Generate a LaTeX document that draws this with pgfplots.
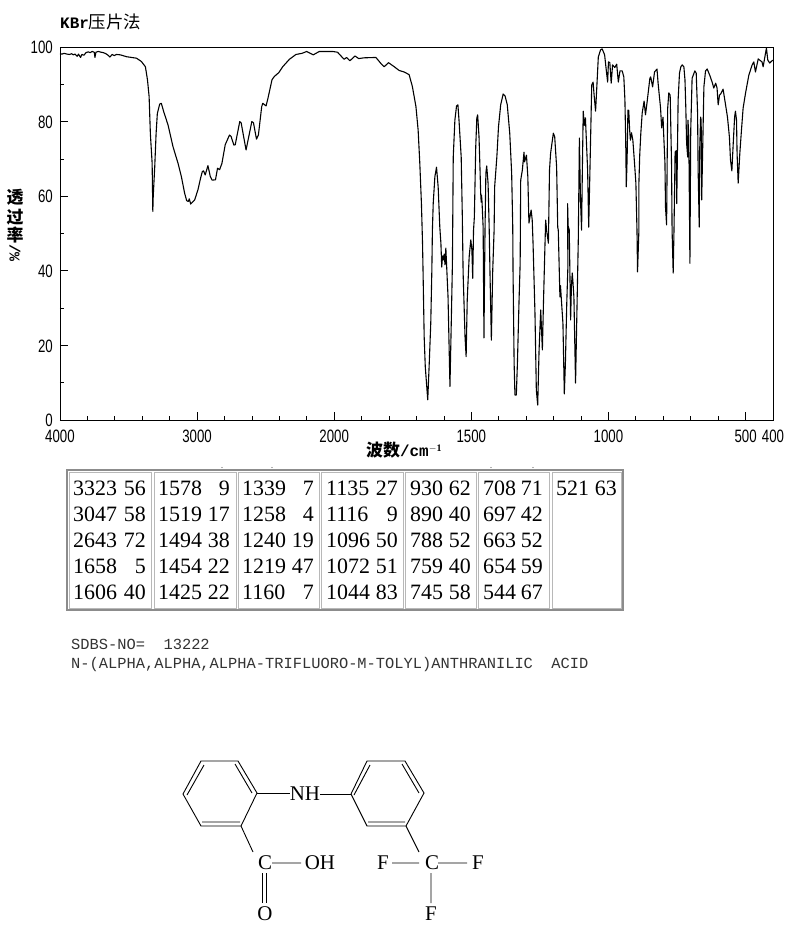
\documentclass[border=0pt]{standalone}
\usepackage{fontspec}
\setmainfont{Liberation Serif}
\setmonofont{Liberation Mono}
\newfontfamily\cjk{Noto Sans CJK SC}
\newfontfamily\tickfont[FakeStretch=0.74]{Liberation Sans}
\usepackage{pgfplots}
\pgfplotsset{compat=1.18}
\newcommand{\fs}[1]{\fontsize{#1}{#1}\selectfont}

% spectrum: wavenumber, transmittance
\begin{document}
\begin{tikzpicture}[x=1bp,y=-1bp]
\path[use as bounding box] (0,0) rectangle (794,935);

\begin{axis}[
  at={(60bp,-420bp)}, anchor=south west,
  scale only axis, width=713bp, height=373bp,
  x coord trafo/.code={\pgfmathparse{#1>=2000?2000+0.5*(#1-2000):#1}},
  x dir=reverse,
  xmin=400, xmax=4000, ymin=0, ymax=100,
  xtick={4000,3000,2000,1500,1000,500,400},
  xticklabels={4000,3000,2000,1500,1000,500,400},
  minor xtick={3800,3600,3400,3200,2800,2600,2400,2200,1900,1800,1700,1600,1400,1300,1200,1100,900,800,700,600},
  ytick={0,20,40,60,80,100},
  yticklabels={0,20,40,60,80,100},
  minor ytick={10,30,50,70,90},
  tick align=inside, xtick pos=bottom, ytick pos=left,
  major tick length=8bp, minor tick length=4bp,
  tick style={black, line width=0.8bp},
  axis line style={line width=0.9bp},
  tick label style={font=\tickfont\fs{18}, inner sep=0pt},
  xticklabel style={yshift=-10bp},
  yticklabel style={xshift=-7bp, yshift=-0.5bp},
]
\addplot[black, line width=1.1bp, line join=round, no marks] table {
4000 98.2
3985 98.1
3970 98.3
3950 98.1
3930 98.0
3915 98.2
3903 97.9
3890 98.1
3875 97.5
3865 98.1
3850 97.2
3840 98.0
3825 97.8
3810 98.5
3794 98.7
3780 98.5
3765 98.8
3750 98.6
3745 97.2
3738 98.6
3720 98.8
3700 98.6
3685 98.5
3665 98.2
3650 97.8
3636 97.3
3620 98.0
3605 97.7
3588 98.0
3560 97.9
3515 97.4
3442 97.0
3406 96.1
3377 94.7
3362 91.2
3350 86.7
3341 76.9
3328 68.8
3323 55.9
3320 60.0
3309 67.9
3299 76.9
3290 82.2
3273 84.7
3261 84.9
3244 82.7
3212 79.1
3176 73.3
3139 68.8
3115 65.3
3091 60.8
3076 58.8
3064 58.6
3057 59.3
3047 57.9
3018 59.0
2994 61.7
2975 64.8
2962 66.6
2953 66.8
2941 65.7
2921 68.2
2904 65.3
2890 64.3
2866 64.4
2851 67.5
2836 67.1
2819 68.8
2795 73.8
2764 76.4
2752 76.0
2732 73.7
2722 73.8
2689 80.0
2679 79.7
2643 72.4
2601 80.0
2589 79.7
2567 75.3
2553 76.4
2529 84.0
2521 84.9
2497 84.2
2483 86.3
2454 91.2
2437 92.1
2405 93.1
2376 94.7
2327 96.7
2279 98.0
2235 98.3
2201 98.8
2153 97.9
2109 98.8
2049 98.8
2010 98.8
1988 98.6
1964 96.7
1955 97.2
1943 96.3
1924 97.6
1911 96.9
1891 97.1
1848 97.2
1830 95.6
1818 94.7
1802 95.8
1781 94.7
1763 93.7
1745 93.3
1727 92.6
1715 89.4
1702 84.0
1694 77.7
1688 68.9
1682 58.0
1678 47.4
1676 39.4
1672 22.3
1668 14.3
1659 5.4
1654 14.3
1648 25.9
1644 40.2
1642 50.9
1639 58.1
1633 65.2
1627 67.8
1621 62.5
1615 51.7
1611 47.4
1608 41.0
1605 44.0
1602 42.9
1599 44.5
1596 41.6
1593 46.1
1585 33.0
1578 9.0
1573 26.8
1569 42.0
1566 70.5
1560 80.4
1554 84.2
1549 84.5
1545 80.4
1537 70.5
1533 55.0
1530 39.4
1523 22.3
1519 17.0
1515 32.2
1508 43.7
1502 48.3
1498 45.6
1495 38.0
1492 50.9
1489 54.4
1484 73.2
1480 81.0
1477 81.8
1472 75.9
1468 66.2
1466 60.9
1464 58.4
1463 60.3
1461 58.4
1457 51.7
1454 22.0
1452 37.5
1450 51.7
1447 66.2
1444 68.1
1439 63.5
1435 51.7
1432 39.4
1427 21.4
1422 40.2
1417 50.9
1415 62.5
1407 70.5
1401 78.6
1393 84.5
1384 87.4
1377 86.9
1369 84.5
1360 76.9
1353 66.2
1349 51.7
1348 40.2
1344 15.2
1341 6.7
1336 6.7
1332 15.2
1326 32.2
1322 42.0
1320 64.3
1314 67.0
1308 71.8
1306 69.2
1299 71.0
1294 65.2
1290 52.8
1282 56.3
1278 53.6
1275 47.4
1268 28.7
1263 8.0
1258 4.0
1253 18.8
1247 29.5
1241 18.8
1237 31.4
1232 45.6
1229 53.6
1225 50.5
1219 47.4
1215 67.0
1211 71.5
1201 76.9
1196 75.9
1189 67.8
1185 51.7
1183 50.9
1177 33.0
1175 36.0
1166 25.9
1161 7.0
1157 15.2
1152 31.4
1148 41.0
1149 58.0
1147 52.0
1143 51.0
1138 26.8
1135 36.0
1132 39.4
1130 37.5
1126 33.0
1120 9.9
1114 33.0
1110 48.3
1106 75.6
1102 59.0
1098 50.9
1095 68.0
1092 82.8
1088 79.0
1086 79.6
1084 81.0
1076 67.0
1072 51.7
1067 68.9
1061 89.8
1056 90.6
1053 87.7
1047 82.8
1043 88.5
1037 97.3
1029 99.2
1023 99.5
1014 97.9
1008 93.8
1003 90.6
1000 96.0
995 95.8
990 90.3
985 95.2
977 94.5
970 95.4
964 90.6
958 93.6
950 93.6
944 92.0
940 85.8
937 74.2
935 62.5
932 70.0
929 83.1
926 83.0
923 78.0
920 75.0
916 77.0
911 75.0
905 68.9
900 63.5
896 50.9
894 39.7
889 50.9
889 63.5
886 71.0
882 76.9
877 82.3
870 85.5
865 81.8
859 85.3
849 91.6
846 92.0
839 89.3
832 93.3
823 94.1
819 90.3
810 83.6
806 78.3
801 81.2
799 77.2
794 68.9
792 57.1
788 52.3
786 68.9
784 83.6
780 87.7
775 87.1
770 68.9
768 50.9
764 39.4
761 51.0
757 71.8
753 72.2
751 58.0
746 85.8
741 93.0
736 94.7
731 95.2
725 94.7
721 91.2
718 83.9
715 74.2
711 70.5
710 80.4
707 75.9
704 50.9
703 42.0
700 77.7
695 91.6
685 93.6
680 93.0
675 82.3
673 67.0
669 51.7
667 73.2
664 81.2
662 80.4
660 59.0
657 70.5
652 89.3
646 93.6
640 94.1
631 92.5
622 90.6
616 89.0
609 90.3
604 89.0
600 84.5
595 87.1
590 87.5
582 88.7
573 84.5
566 81.2
559 75.9
555 69.7
550 66.8
545 74.2
540 81.2
537 82.8
533 80.4
531 71.5
527 63.5
521 71.5
515 77.7
509 83.6
500 87.7
488 92.5
476 95.2
470 96.0
464 93.3
454 96.8
440 96.0
436 94.7
424 99.7
419 96.5
412 95.7
401 96.5
};
\end{axis}

% heading and axis titles
\node[anchor=west, inner sep=0pt] at (60,22) {\texttt{\bfseries\fs{16}KBr}{\cjk\fs{17.5}压片法}};
\node[inner sep=0pt] at (15,197) {\cjk\bfseries\fs{17}透};
\node[inner sep=0pt] at (15,217) {\cjk\bfseries\fs{17}过};
\node[inner sep=0pt] at (15,235) {\cjk\bfseries\fs{17}率};
\node[inner sep=0pt, rotate=-90] at (15,253) {\texttt{\bfseries\fs{15}/\%}};
\node[anchor=west, inner sep=0pt] at (366,450) {{\cjk\bfseries\fs{17}波数}\texttt{\bfseries\fs{16}/cm}\raisebox{5bp}{\fs{10}\bfseries$-$1}};

% peak table
\foreach \px in {222,272,491,533}
  \fill[black!60] (\px,467.5) circle (0.7);
\draw[black!45, line width=1.3bp] (67,470) rectangle (623,610);
\foreach \a/\b in {69/151,154/236,238/319,321/403,405/476,478/549,552/621}
  \draw[black!28, line width=0.9bp] (\a,472) rectangle (\b,608);
\foreach \y [count=\r] in {495.5,521.5,547.5,573.5,599.5}{
  \ifnum\r=1 \def\cols{3323/56/73/146,1578/9/158/230,1339/7/242/314,1135/27/326/398,930/62/410/471,708/71/483/543,521/63/556/617}\fi
  \ifnum\r=2 \def\cols{3047/58/73/146,1519/17/158/230,1258/4/242/314,1116/9/326/398,890/40/410/471,697/42/483/543}\fi
  \ifnum\r=3 \def\cols{2643/72/73/146,1494/38/158/230,1240/19/242/314,1096/50/326/398,788/52/410/471,663/52/483/543}\fi
  \ifnum\r=4 \def\cols{1658/5/73/146,1454/22/158/230,1219/47/242/314,1072/51/326/398,759/40/410/471,654/59/483/543}\fi
  \ifnum\r=5 \def\cols{1606/40/73/146,1425/22/158/230,1160/7/242/314,1044/83/326/398,745/58/410/471,544/67/483/543}\fi
  \foreach \w/\t/\xa/\xb in \cols {
    \node[anchor=base west, inner sep=0pt] at (\xa,\y) {\fs{22}\w};
    \node[anchor=base east, inner sep=0pt] at (\xb,\y) {\fs{22}\t};
  }
}

% registry lines
\node[anchor=base west, inner sep=0pt, text=black!80] at (71,649) {\ttfamily\fs{15.45}SDBS-NO=\ \ 13222};
\node[anchor=base west, inner sep=0pt, text=black!80] at (71,668) {\ttfamily\fs{15.45}N-(ALPHA,ALPHA,ALPHA-TRIFLUORO-M-TOLYL)ANTHRANILIC\ \ ACID};

% structure
\begin{scope}[line width=0.9bp, black]
\draw (201,761)--(238,761)--(257,793)--(241,826)--(201,826)--(183,794)--cycle;
\draw (204,765)--(187,795) (235,764)--(252,793) (202,822)--(240,822);
\draw (367,761)--(405,761)--(424,793)--(406,826)--(367,826)--(351,794)--cycle;
\draw (370,765)--(354,795) (402,764)--(419,793) (368,822)--(405,822);
\draw (257,793)--(290,793) (320,794)--(351,794);
\draw (241,826)--(253,852) (272,863)--(301,863);
\draw (262.3,873)--(262.3,903) (266.5,873)--(266.5,903);
\draw (406,826)--(419,852) (392,863)--(419,863) (438,863)--(467,863) (431,873)--(431,903);
\end{scope}
\node[inner sep=0pt] at (305,794) {\fs{21}NH};
\node[inner sep=0pt] at (265,863) {\fs{21}C};
\node[inner sep=0pt] at (320,863) {\fs{21}OH};
\node[inner sep=0pt] at (265,914) {\fs{21}O};
\node[inner sep=0pt] at (432,863) {\fs{21}C};
\node[inner sep=0pt] at (383,863) {\fs{21}F};
\node[inner sep=0pt] at (478,863) {\fs{21}F};
\node[inner sep=0pt] at (431,914) {\fs{21}F};
\end{tikzpicture}
\end{document}
